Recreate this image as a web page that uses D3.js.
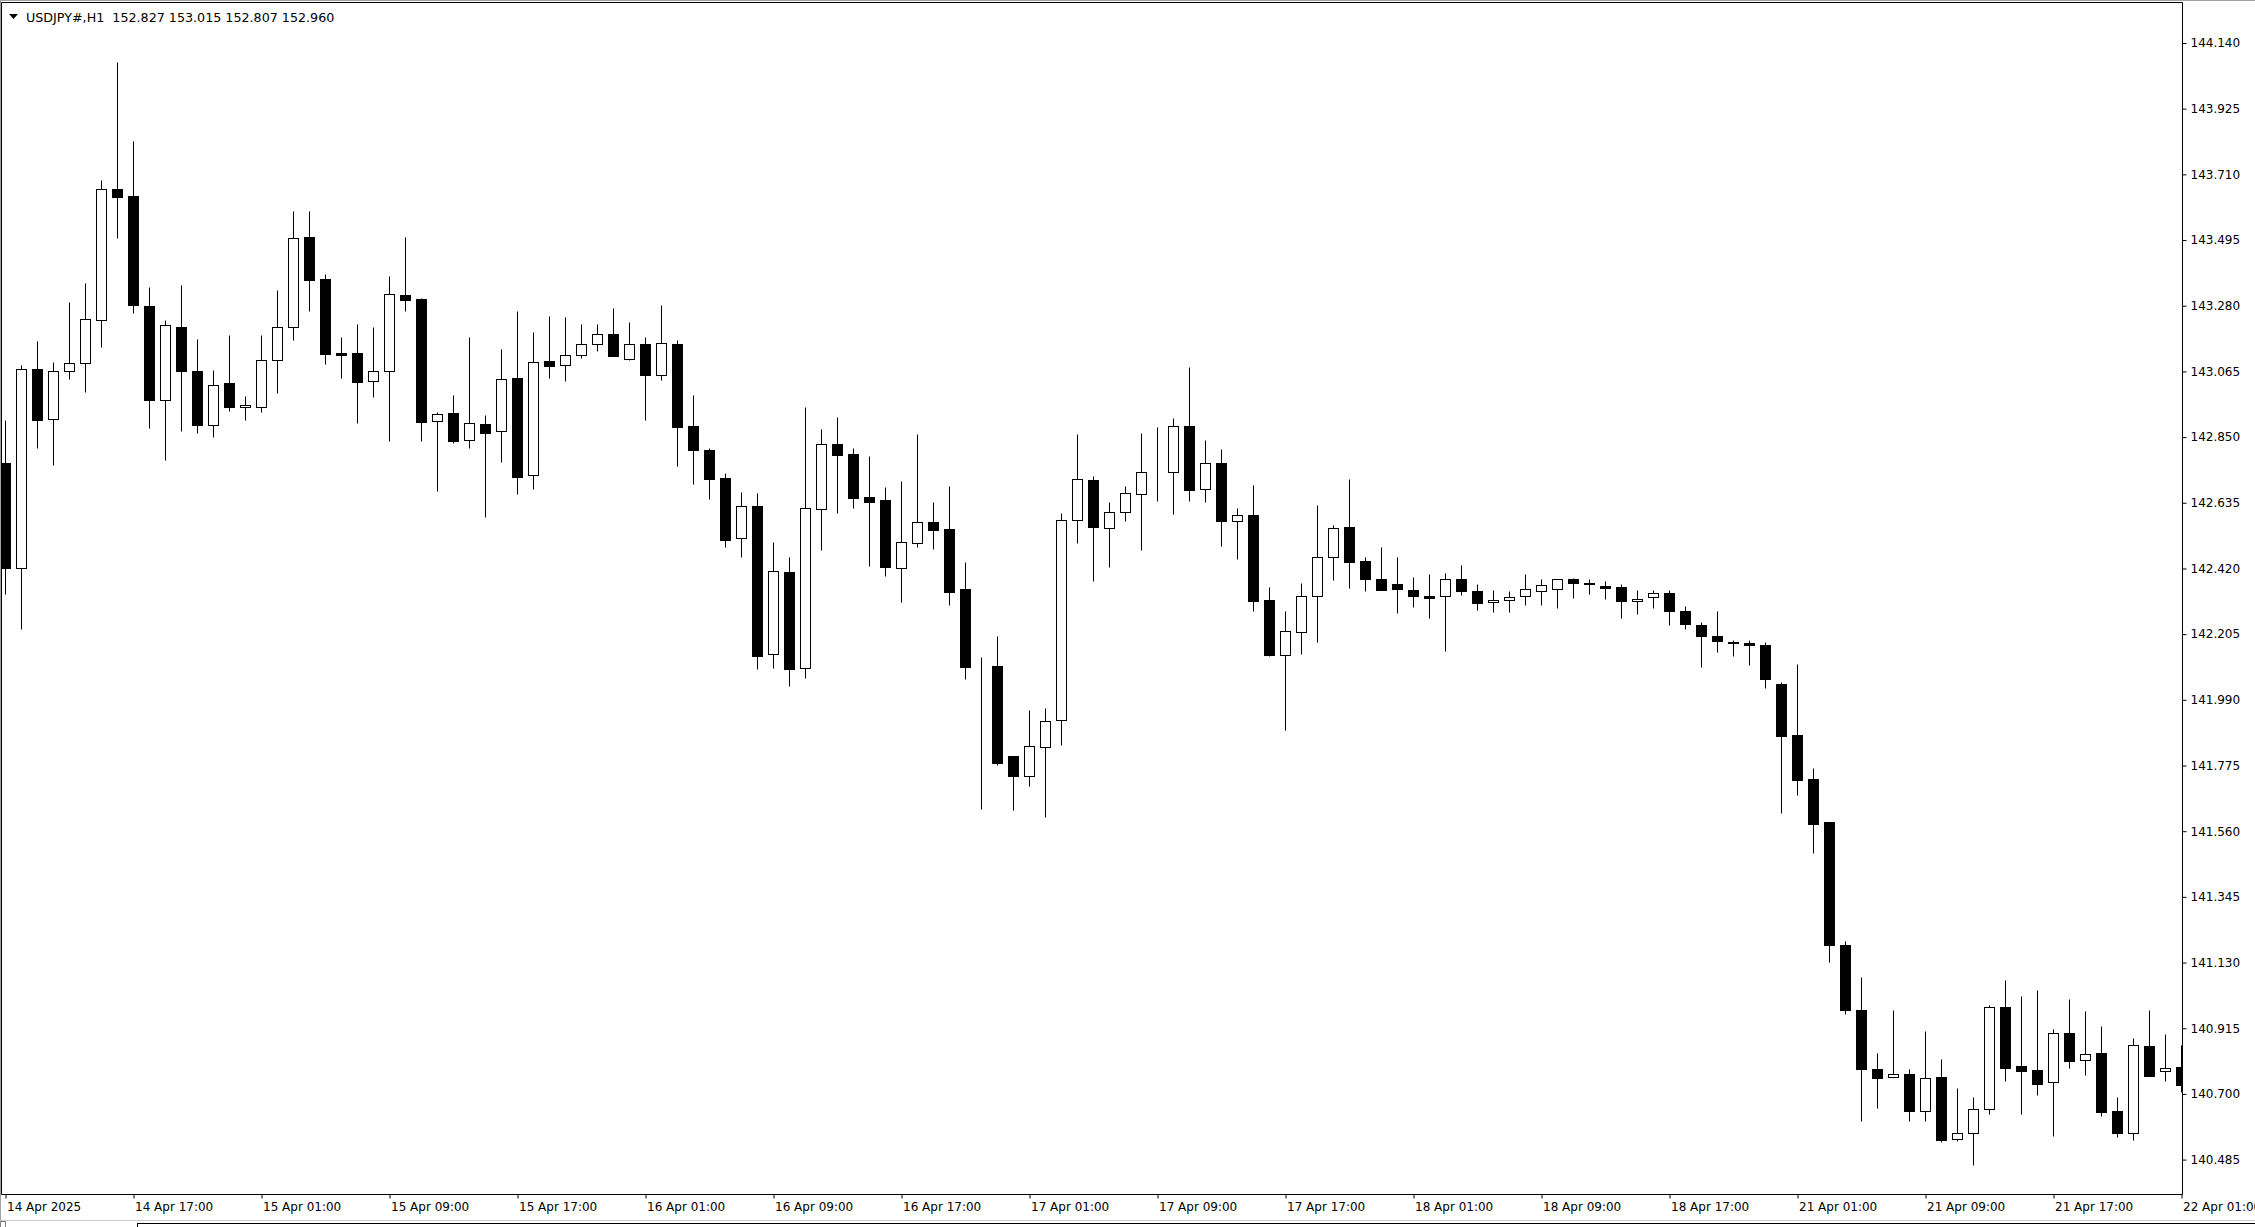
<!DOCTYPE html>
<html><head><meta charset="utf-8">
<script src="https://cdn.jsdelivr.net/npm/d3@7"></script>
<style>
html,body{margin:0;padding:0;background:#fff;}
svg{display:block;}
text{font-family:"DejaVu Sans",Verdana,sans-serif;font-size:12px;fill:#000;}
</style></head>
<body>
<svg id="chart" width="2255" height="1227"></svg>
<script>
const title = "USDJPY#,H1  152.827 153.015 152.807 152.960";
const priceTicks = [144.140,143.925,143.710,143.495,143.280,143.065,142.850,142.635,142.420,142.205,141.990,141.775,141.560,141.345,141.130,140.915,140.700,140.485];
const timeLabels = ["14 Apr 2025","14 Apr 17:00","15 Apr 01:00","15 Apr 09:00","15 Apr 17:00","16 Apr 01:00","16 Apr 09:00","16 Apr 17:00","17 Apr 01:00","17 Apr 09:00","17 Apr 17:00","18 Apr 01:00","18 Apr 09:00","18 Apr 17:00","21 Apr 01:00","21 Apr 09:00","21 Apr 17:00","22 Apr 01:00"];
const timeLabelBars = [0,8,16,24,32,40,48,56,64,72,80,88,96,104,112,120,128,136];

const open = [142.764,142.420,143.072,142.909,143.065,143.092,143.232,143.663,143.638,143.279,
142.970,143.212,143.065,142.891,143.026,142.948,142.950,143.101,143.209,143.505,
143.367,143.125,143.125,143.035,143.067,143.314,143.302,142.902,142.929,142.840,
142.892,142.869,143.043,142.725,143.099,143.085,143.118,143.154,143.187,143.107,
143.155,143.052,143.155,142.886,142.808,142.716,142.519,142.624,142.139,142.408,
142.093,142.614,142.826,142.795,142.654,142.644,142.422,142.504,142.572,142.549,
142.353,142.100,142.101,141.806,141.742,141.837,141.923,142.580,142.710,142.553,
142.606,142.663,142.735,142.735,142.885,142.679,142.764,142.574,142.595,142.317,
142.136,142.211,142.329,142.457,142.555,142.444,142.385,142.368,142.349,142.329,
142.329,142.385,142.346,142.309,142.316,142.329,142.345,142.352,142.384,142.371,
142.362,142.359,142.312,142.326,142.340,142.281,142.236,142.199,142.180,142.176,
142.169,142.041,141.874,141.730,141.589,141.187,140.975,140.783,140.757,140.764,
140.643,140.757,140.551,140.571,140.650,140.984,140.790,140.777,140.738,140.899,
140.810,140.833,140.644,140.573,140.857,140.774,140.788];
const high = [142.905,143.085,143.165,143.096,143.292,143.355,143.693,144.078,143.820,143.342,
143.232,143.348,143.172,143.070,143.183,142.985,143.185,143.330,143.590,143.590,
143.384,143.178,143.220,143.210,143.377,143.505,143.305,142.932,142.988,143.178,
142.922,143.138,143.263,143.193,143.246,143.243,143.220,143.220,143.273,143.227,
143.178,143.282,143.168,142.988,142.814,142.732,142.670,142.667,142.507,142.458,
142.948,142.876,142.916,142.814,142.788,142.687,142.706,142.860,142.638,142.690,
142.441,142.130,142.199,141.806,141.957,141.963,142.601,142.860,142.723,142.638,
142.690,142.863,142.883,142.912,143.079,142.840,142.811,142.618,142.693,142.359,
142.281,142.372,142.628,142.562,142.713,142.458,142.490,142.458,142.392,142.402,
142.405,142.431,142.369,142.349,142.346,142.402,142.385,142.384,142.389,142.385,
142.379,142.369,142.349,142.349,142.348,142.297,142.244,142.281,142.186,142.186,
142.180,142.048,142.107,141.767,141.589,141.202,141.082,140.834,140.975,140.783,
140.905,140.813,140.721,140.690,140.991,141.073,141.020,141.040,140.913,141.011,
140.971,140.922,140.691,140.883,140.975,140.896,140.859];
const low = [142.337,142.223,142.815,142.758,143.041,142.998,143.145,143.503,143.256,142.880,
142.776,142.871,142.864,142.851,142.937,142.905,142.931,142.995,143.169,143.264,
143.090,143.044,142.897,142.982,142.838,143.264,142.838,142.675,142.832,142.815,
142.589,142.769,142.665,142.681,143.044,143.035,143.110,143.133,143.114,143.103,
142.907,143.038,142.756,142.697,142.648,142.491,142.458,142.092,142.095,142.036,
142.062,142.481,142.603,142.618,142.428,142.395,142.310,142.491,142.484,142.300,
142.058,141.633,141.777,141.629,141.708,141.607,141.842,142.504,142.380,142.425,
142.575,142.480,142.642,142.599,142.642,142.638,142.494,142.452,142.282,142.133,
141.892,142.139,142.180,142.383,142.357,142.347,142.348,142.275,142.295,142.259,
142.151,142.334,142.284,142.278,142.278,142.301,142.301,142.291,142.324,142.337,
142.321,142.259,142.272,142.291,142.236,142.223,142.098,142.146,142.134,142.103,
142.028,141.619,141.679,141.490,141.131,140.963,140.610,140.653,140.755,140.612,
140.612,140.542,140.545,140.466,140.635,140.743,140.635,140.697,140.563,140.786,
140.763,140.629,140.560,140.550,140.760,140.743,140.707];
const close = [142.421,143.074,142.905,143.065,143.092,143.235,143.663,143.637,143.281,142.973,
143.216,143.065,142.891,143.022,142.950,142.955,143.101,143.212,143.501,143.365,
143.123,143.120,143.031,143.065,143.317,143.300,142.900,142.925,142.838,142.895,
142.864,143.039,142.718,143.095,143.084,143.118,143.154,143.186,143.116,143.154,
143.054,143.157,142.884,142.809,142.714,142.514,142.623,142.134,142.411,142.092,
142.617,142.826,142.792,142.652,142.638,142.426,142.506,142.571,142.546,142.343,
142.098,142.100,141.784,141.742,141.838,141.921,142.578,142.712,142.556,142.604,
142.666,142.735,142.735,142.885,142.678,142.764,142.576,142.594,142.314,142.136,
142.214,142.329,142.457,142.551,142.442,142.386,142.350,142.354,142.331,142.324,
142.384,142.347,142.308,142.317,142.326,142.352,142.365,142.384,142.371,142.368,
142.357,142.314,142.320,142.339,142.282,142.237,142.200,142.181,142.175,142.168,
142.059,141.873,141.729,141.582,141.186,140.976,140.783,140.753,140.764,140.643,
140.753,140.548,140.571,140.650,140.984,140.786,140.776,140.733,140.898,140.809,
140.830,140.642,140.573,140.859,140.760,140.785,140.730];

const bars = open.map((o,i)=>({i, o, h:high[i], l:low[i], c:close[i]}));

const svg = d3.select("#chart");
const W = 2255, H = 1227;
const plotLeft = 1.5, plotTop = 2.5, plotRight = 2182.5, plotBottom = 1194.5;

svg.append("rect").attr("width",W).attr("height",H).attr("fill","#fff");

const x = d3.scaleLinear().domain([0, 136]).range([5.5, 5.5 + 16*136]);
const y = d3.scaleLinear().domain([140.485, 144.140]).range([1159.6, 43.0]);
const sy = v => Math.round(y(v)) + 0.5;

svg.append("defs").append("clipPath").attr("id","plotclip")
  .append("rect").attr("x",plotLeft+0.5).attr("y",plotTop+0.5)
  .attr("width",plotRight-plotLeft-1).attr("height",plotBottom-plotTop-1);

// outer window lines
svg.append("line").attr("x1",0.5).attr("x2",0.5).attr("y1",0).attr("y2",1221).attr("stroke","#a0a0a0");
svg.append("line").attr("x1",0).attr("x2",W).attr("y1",0.5).attr("y2",0.5).attr("stroke","#a0a0a0");

// plot frame
svg.append("path")
  .attr("d",`M${plotLeft},${plotBottom}V${plotTop}H${plotRight}V${plotBottom}Z`)
  .attr("fill","none").attr("stroke","#000").attr("stroke-width",1);

const g = svg.append("g").attr("clip-path","url(#plotclip)");

// wicks
g.selectAll("line.wick").data(bars).join("line")
  .attr("class","wick")
  .attr("x1",d=>x(d.i)).attr("x2",d=>x(d.i))
  .attr("y1",d=>sy(d.h)).attr("y2",d=>sy(d.l))
  .attr("stroke","#000").attr("stroke-width",1);

// bodies
g.selectAll("rect.body").data(bars).join("rect")
  .attr("class","body")
  .attr("x",d=>x(d.i)-5)
  .attr("width",10)
  .attr("y",d=>Math.min(sy(d.o),sy(d.c)))
  .attr("height",d=>Math.abs(sy(d.o)-sy(d.c)))
  .attr("fill",d=>d.c>=d.o ? "#fff" : "#000")
  .attr("stroke","#000").attr("stroke-width",1);

// price axis
const yAxis = d3.axisRight(y).tickValues(priceTicks).tickFormat(d3.format(".3f")).tickSize(4).tickPadding(4);
const ya = svg.append("g").attr("transform",`translate(${plotRight},0)`).call(yAxis);
ya.select(".domain").remove();
ya.selectAll("line").attr("stroke","#000");
ya.selectAll("text").style("font-family","DejaVu Sans, Verdana, sans-serif").style("font-size","12px").attr("fill","#000");

// time axis
const xAxis = d3.axisBottom(x).tickValues(timeLabelBars).tickFormat((d,k)=>timeLabels[k]).tickSize(4);
const xa = svg.append("g").attr("transform",`translate(0,${plotBottom})`).call(xAxis);
xa.select(".domain").remove();
xa.selectAll("line").attr("stroke","#000");
xa.selectAll("text").attr("text-anchor","start").attr("x",1).attr("y",8)
  .style("font-family","DejaVu Sans, Verdana, sans-serif").style("font-size","12px").attr("fill","#000");

// header
svg.append("path").attr("d","M9,14 L18,14 L13.5,19 Z").attr("fill","#000");
svg.append("text").attr("x",26).attr("y",21.5).style("font-size","12.7px").attr("xml:space","preserve").style("white-space","pre").text(title);

// bottom tab bar
svg.append("line").attr("x1",0).attr("x2",W).attr("y1",1220.5).attr("y2",1220.5).attr("stroke","#c8c8c8");
svg.append("line").attr("x1",138).attr("x2",W).attr("y1",1223.5).attr("y2",1223.5).attr("stroke","#000");
svg.append("line").attr("x1",137.5).attr("x2",137.5).attr("y1",1223).attr("y2",H).attr("stroke","#000");
svg.append("rect").attr("x",0.5).attr("y",1221.5).attr("width",5).attr("height",6).attr("fill","none").attr("stroke","#808080");
</script>
</body></html>
